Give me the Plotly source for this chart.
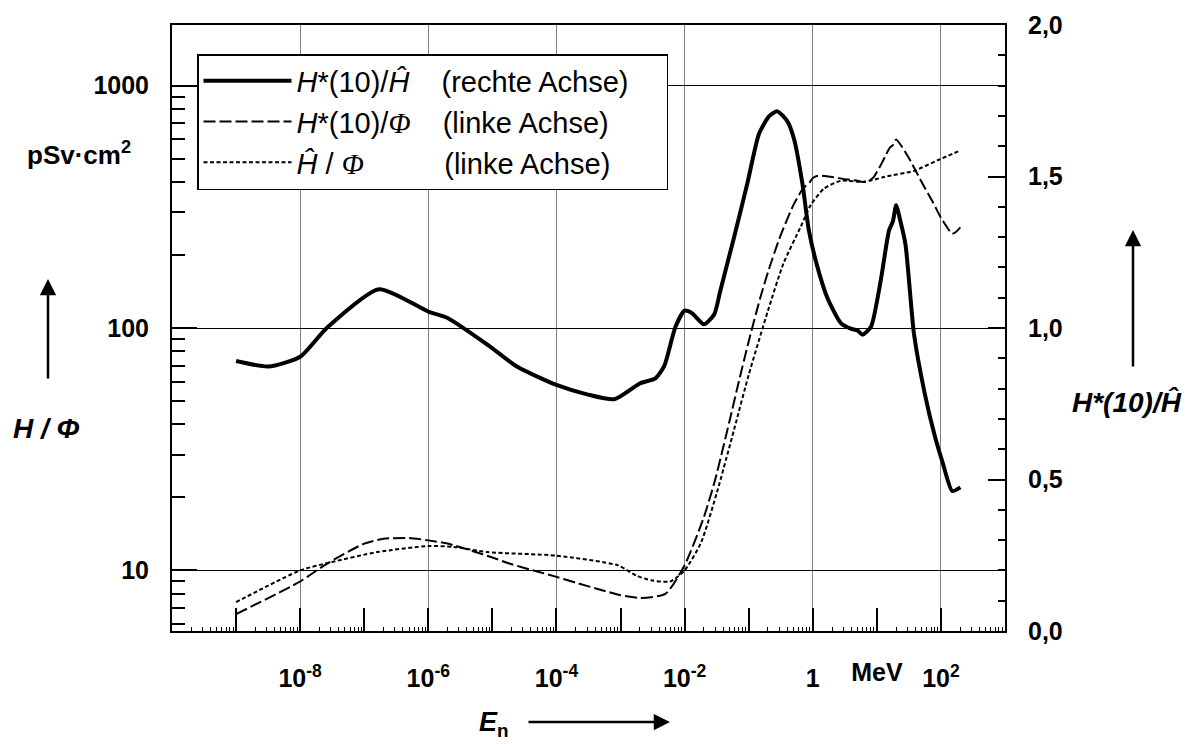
import plotly.graph_objects as go

# ---------------- data ----------------
# H*(10)/Phi  (left axis, pSv cm^2), dashed
E_DASH = [1e-9, 1e-8, 2.53e-8, 1e-7, 2e-7, 5e-7, 1e-6, 2e-6, 5e-6, 1e-5, 2e-5, 5e-5,
          1e-4, 2e-4, 5e-4, 1e-3, 2e-3, 5e-3, 1e-2, 2e-2, 3e-2, 5e-2, 7e-2, 0.1, 0.15,
          0.2, 0.3, 0.5, 0.7, 0.9, 1.0, 1.2, 2.0, 3.0, 4.0, 5.0, 6.0, 7.0, 8.0, 9.0,
          10, 12, 14, 15, 16, 18, 20, 30, 50, 75, 100, 125, 150, 175, 201]
V_DASH = [6.6, 9.0, 10.6, 12.9, 13.5, 13.6, 13.3, 12.9, 12.0, 11.3, 10.6, 9.9,
          9.4, 8.9, 8.3, 7.9, 7.7, 8.0, 10.5, 16.6, 23.7, 41.1, 60.0, 88.0, 132,
          170, 233, 322, 375, 400, 416, 425, 420, 412, 408, 405, 400, 405, 409, 420,
          440, 480, 520, 540, 555, 570, 600, 515, 400, 330, 285, 260, 245, 250, 260]

# H^/Phi  (left axis), dotted
E_DOT = [1e-9, 1e-8, 3e-8, 1.6e-7, 1e-6, 2.5e-6, 8.3e-6, 1e-4, 9e-4, 1.8e-3, 3e-3,
         6e-3, 1e-2, 1.8e-2, 3.2e-2, 5.9e-2, 0.1, 0.2, 0.35, 0.65, 0.93, 1.5, 2.75,
         6.3, 13, 38, 89, 201]
V_DOT = [7.4, 10.0, 10.8, 11.9, 12.6, 12.5, 11.9, 11.5, 10.5, 9.5, 9.1,
         9.0, 10.0, 13.0, 21.0, 38, 64, 118, 185, 262, 322, 376, 405,
         400, 420, 445, 492, 540]

# H*(10)/H^  (right axis), solid
E_SOLID = [1e-9, 3.2e-9, 1e-8, 2.6e-8, 1.7e-7, 1e-6, 2e-6, 9.3e-6, 2.45e-5, 1e-4,
           3e-4, 8e-4, 2e-3, 3.5e-3, 4.8e-3, 7.2e-3, 1e-2, 1.3e-2, 2e-2, 2.9e-2,
           3.6e-2, 5.9e-2, 9.5e-2, 0.145, 0.21, 0.28, 0.4, 0.51, 0.69, 0.87, 1.17,
           1.7, 2.75, 3.9, 5.0, 6.0, 8.1, 11.5, 15.5, 17.8, 20, 23, 28, 38, 55, 79,
           107, 150, 201]
V_SOLID = [0.891, 0.873, 0.905, 1.0, 1.128, 1.054, 1.033, 0.938, 0.872, 0.812,
           0.781, 0.765, 0.817, 0.834, 0.874, 1.004, 1.057, 1.049, 1.012, 1.045,
           1.122, 1.299, 1.476, 1.641, 1.70, 1.715, 1.683, 1.624, 1.476, 1.322, 1.205,
           1.098, 1.016, 0.998, 0.992, 0.978, 1.004, 1.157, 1.322, 1.352, 1.405, 1.358,
           1.275, 0.98, 0.791, 0.649, 0.554, 0.462, 0.474]

# tick definitions
X_GRID_VALS = [1e-8, 1e-6, 1e-4, 1e-2, 1, 1e2]
X_GRID_TEXT = ["10<sup>-8</sup>", "10<sup>-6</sup>", "10<sup>-4</sup>", "10<sup>-2</sup>", "1", "10<sup>2</sup>"]
X_ODD_VALS = [1e-9, 1e-7, 1e-5, 1e-3, 1e-1, 1e1]
X_ODD_TEXT = ["", "", "", "", "", "MeV"]
Y_LEFT_VALS = [10, 100, 1000]
Y_LEFT_TEXT = ["10", "100", "1000"]
Y_RIGHT_VALS = [0, 0.5, 1.0, 1.5, 2.0]
Y_RIGHT_TEXT = ["0,0", "0,5", "1,0", "1,5", "2,0"]

x_minor = [m * 10.0 ** k for k in range(-10, 3) for m in range(2, 10)]
y_minor = [m * 10.0 ** k for k in range(0, 4) for m in range(2, 10)]
y2_minor = [i / 10 for i in range(0, 21)]

FONT = "Liberation Sans, Arial, Helvetica, sans-serif"
PHI = "<span style='font-family:Liberation Serif'><i>Φ</i></span>"
NB = "\u00a0"

fig = go.Figure()

fig.add_trace(go.Scatter(
    x=E_SOLID, y=V_SOLID, xaxis="x2", yaxis="y2", mode="lines",
    line=dict(color="black", width=4, shape="spline", smoothing=0.6),
    name="<i>H</i>*(10)/<i>Ĥ</i>" + NB * 4 + "(rechte Achse)" + NB * 4))
fig.add_trace(go.Scatter(
    x=E_DASH, y=V_DASH, xaxis="x", yaxis="y", mode="lines",
    line=dict(color="black", width=2, dash="12px,4px", shape="spline", smoothing=0.6),
    name="<i>H</i>*(10)/" + PHI + NB * 4 + "(linke Achse)"))
fig.add_trace(go.Scatter(
    x=E_DOT, y=V_DOT, xaxis="x", yaxis="y", mode="lines",
    line=dict(color="black", width=2, dash="4px,2.5px", shape="spline", smoothing=0.6),
    name="<i>Ĥ</i> / " + PHI + NB * 10 + "(linke Achse)"))

tickfont = dict(family=FONT, size=25, color="black", weight="bold")

W_PLOT = 1190 - 172 - 185
H_PLOT = 744 - 25 - 113


def px(xp):
    return (xp - 172) / W_PLOT


def py(yp):
    return (744 - 113 - yp) / H_PLOT


fig.update_layout(
    width=1190, height=744, autosize=False,
    margin=dict(l=172, r=185, t=25, b=113),
    paper_bgcolor="white", plot_bgcolor="white",
    font=dict(family=FONT, color="black"),
    showlegend=True,
    legend=dict(x=px(197), y=py(122), xanchor="left", yanchor="middle",
                bordercolor="black", borderwidth=1.5, bgcolor="white",
                font=dict(family=FONT, size=29, color="black"),
                itemwidth=88, tracegroupgap=0),
    xaxis=dict(type="log", range=[-10, 3], tickmode="array",
               tickvals=X_GRID_VALS, ticktext=X_GRID_TEXT, tickfont=tickfont,
               ticks="inside", ticklen=23, tickwidth=2, tickcolor="black",
               ticklabelstandoff=24,
               showgrid=True, gridcolor="#808080", gridwidth=1.3,
               showline=True, linecolor="black", linewidth=2, mirror=True,
               zeroline=False,
               minor=dict(tickmode="array", tickvals=x_minor, ticks="inside",
                          ticklen=4, tickwidth=1, tickcolor="black", showgrid=False)),
    xaxis2=dict(type="log", range=[-10, 3], overlaying="x", anchor="y2", side="bottom",
                tickmode="array", tickvals=X_ODD_VALS, ticktext=X_ODD_TEXT,
                tickfont=tickfont, ticklabelstandoff=24,
                ticks="inside", ticklen=23, tickwidth=2, tickcolor="black",
                showgrid=False, showline=False, zeroline=False),
    yaxis=dict(type="log", range=[0.75, 3.25], tickmode="array",
               tickvals=Y_LEFT_VALS, ticktext=Y_LEFT_TEXT, tickfont=tickfont,
               ticks="inside", ticklen=25, tickwidth=2, tickcolor="black",
               ticklabelstandoff=16,
               showgrid=True, gridcolor="black", gridwidth=1,
               showline=True, linecolor="black", linewidth=2, zeroline=False,
               minor=dict(tickmode="array", tickvals=y_minor, ticks="inside",
                          ticklen=13, tickwidth=2, tickcolor="black", showgrid=False)),
    yaxis2=dict(range=[0, 2], overlaying="y", side="right", anchor="x2",
                tickmode="array", tickvals=Y_RIGHT_VALS, ticktext=Y_RIGHT_TEXT,
                tickfont=tickfont, ticks="inside", ticklen=17, tickwidth=2,
                tickcolor="black", ticklabelstandoff=16,
                showgrid=False, showline=True, linecolor="black", linewidth=2,
                zeroline=False,
                minor=dict(tickmode="array", tickvals=y2_minor, ticks="inside",
                           ticklen=7, tickwidth=2, tickcolor="black", showgrid=False)),
)

ann = []
ann.append(dict(text="pSv·cm<sup>2</sup>", x=px(133), y=py(153), xref="paper", yref="paper",
                xanchor="right", yanchor="middle", showarrow=False,
                font=dict(family=FONT, size=26, weight="bold", color="black")))
ann.append(dict(text="<i>H / Φ</i>", x=px(46), y=py(428), xref="paper", yref="paper",
                xanchor="center", yanchor="middle", showarrow=False,
                font=dict(family=FONT, size=28, weight="bold", color="black")))
ann.append(dict(text="<i>H*(10)/Ĥ</i>", x=px(1127), y=py(402), xref="paper", yref="paper",
                xanchor="center", yanchor="middle", showarrow=False,
                font=dict(family=FONT, size=28, weight="bold", color="black")))
ann.append(dict(text="<i>E</i><sub>n</sub>", x=px(477), y=py(724), xref="paper", yref="paper",
                xanchor="left", yanchor="middle", showarrow=False,
                font=dict(family=FONT, size=27, weight="bold", color="black")))
# arrows
for tipx, tipy, ax, ay in [(48, 279, 0, 101), (1133, 230, 0, 138), (670, 722, -143, 0)]:
    ann.append(dict(text="", x=px(tipx), y=py(tipy), xref="paper", yref="paper",
                    ax=ax, ay=ay, axref="pixel", ayref="pixel", showarrow=True,
                    arrowhead=2, arrowsize=1.3, arrowwidth=2.5, arrowcolor="black"))
fig.update_layout(annotations=ann)

fig.write_html("out.html")
